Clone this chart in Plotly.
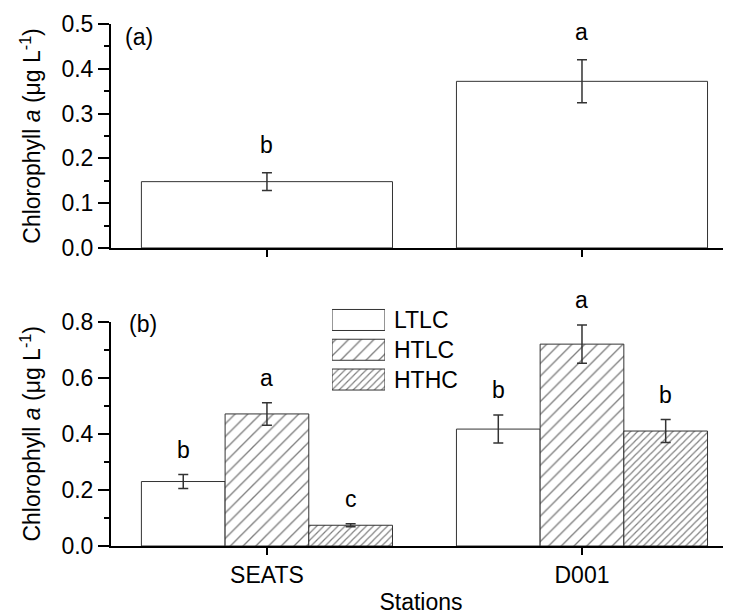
import plotly.graph_objects as go

stations = ["SEATS", "D001"]

# Panel (a)
a_values = [0.148, 0.372]
a_errors = [0.020, 0.048]
a_letters = ["b", "a"]

# Panel (b)
series = ["LTLC", "HTLC", "HTHC"]
b_values = {
    "LTLC": [0.230, 0.417],
    "HTLC": [0.471, 0.720],
    "HTHC": [0.074, 0.410],
}
b_errors = {
    "LTLC": [0.025, 0.050],
    "HTLC": [0.040, 0.068],
    "HTHC": [0.005, 0.041],
}
b_letters = {
    "LTLC": ["b", "b"],
    "HTLC": ["a", "a"],
    "HTHC": ["c", "b"],
}

FONT = "Liberation Sans, Arial, sans-serif"
FS = 23
LINEC = "#333333"
patterns = {"LTLC": ("", 9, 0.12), "HTLC": ("/", 9, 0.15), "HTHC": ("/", 5, 0.24)}

fig = go.Figure()

fig.add_trace(go.Bar(
    x=stations, y=a_values, xaxis="x", yaxis="y",
    marker=dict(color="white", line=dict(color=LINEC, width=1)),
    error_y=dict(type="data", array=a_errors, color=LINEC, thickness=1.5, width=5),
    showlegend=False,
))

for s in series:
    shp, sz, sol = patterns[s]
    fig.add_trace(go.Bar(
        x=stations, y=b_values[s], name=s, xaxis="x2", yaxis="y2",
        marker=dict(color="white", line=dict(color=LINEC, width=1),
                    pattern=dict(shape=shp, size=sz, solidity=sol, fgcolor="black", bgcolor="white")),
        error_y=dict(type="data", array=b_errors[s], color=LINEC, thickness=1.5, width=5),
        showlegend=False,
    ))

# custom legend swatches
fig.add_trace(go.Bar(
    x=[1] * len(series), y=series, orientation="h", base=0, width=0.706,
    xaxis="x3", yaxis="y3", showlegend=False, hoverinfo="skip",
    marker=dict(color="white", line=dict(color=LINEC, width=1),
                pattern=dict(shape=[patterns[s][0] for s in series],
                             size=[patterns[s][1] for s in series],
                             solidity=[patterns[s][2] for s in series],
                             fgcolor="black", bgcolor="white")),
))

annotations = []
for i, st in enumerate(stations):
    annotations.append(dict(x=i, y=a_values[i] + a_errors[i], xref="x", yref="y",
                            text=a_letters[i], showarrow=False, yshift=28,
                            font=dict(size=FS, family=FONT, color="black")))
group_w = 0.797
bw = group_w / len(series)
for j, s in enumerate(series):
    off = -group_w / 2 + bw * (j + 0.5)
    for i, st in enumerate(stations):
        annotations.append(dict(x=i + off, y=b_values[s][i] + b_errors[s][i], xref="x2", yref="y2",
                                text=b_letters[s][i], showarrow=False, yshift=25,
                                font=dict(size=FS, family=FONT, color="black")))
annotations.append(dict(x=0.019, y=1.0, xref="paper", yref="paper", text="(a)", showarrow=False,
                        xanchor="left", yanchor="top", yshift=2, font=dict(size=FS, family=FONT, color="black")))
annotations.append(dict(x=0.026, y=0.4297, xref="paper", yref="paper", text="(b)", showarrow=False,
                        xanchor="left", yanchor="top", yshift=13, font=dict(size=FS, family=FONT, color="black")))

ytitle = "Chlorophyll <i>a</i> (μg L<sup>-1</sup>)"
common_x = dict(type="category", range=[-0.495, 1.473], showline=True, linewidth=2, linecolor="black",
                ticks="outside", ticklen=7, tickwidth=2, tickcolor="black", showgrid=False, zeroline=False,
                automargin=False, tickfont=dict(size=FS, family=FONT, color="black"))
common_y = dict(showline=True, linewidth=2, linecolor="black", ticks="outside", ticklen=11, tickwidth=2,
                tickcolor="black", showgrid=False, zeroline=False, automargin=False,
                tickfont=dict(size=FS, family=FONT, color="black"),
                title=dict(text=ytitle, font=dict(size=FS, family=FONT, color="black"), standoff=14))

# the page adds an 8px body margin, so the figure is 8px smaller on each side
fig.update_layout(
    width=723, height=607,
    margin=dict(l=103, r=0, t=16, b=69),
    paper_bgcolor="white", plot_bgcolor="white",
    barmode="group", bargap=0.203, bargroupgap=0,
    font=dict(family=FONT, size=FS, color="black"),
    xaxis=dict(common_x, domain=[0, 1], anchor="y", showticklabels=False),
    yaxis=dict(common_y, domain=[0.571, 1.0], anchor="x", range=[0, 0.5], dtick=0.1, tickformat=".1f",
               minor=dict(ticks="outside", ticklen=5, tickwidth=2, tickcolor="black", dtick=0.05)),
    xaxis2=dict(common_x, domain=[0, 1], anchor="y2",
                title=dict(text="Stations", font=dict(size=FS, family=FONT, color="black"), standoff=10)),
    yaxis2=dict(common_y, domain=[0, 0.4297], anchor="x2", range=[0, 0.8], dtick=0.2, tickformat=".1f",
                minor=dict(ticks="outside", ticklen=5, tickwidth=2, tickcolor="black", dtick=0.1)),
    xaxis3=dict(domain=[0.3565, 0.4419], anchor="y3", range=[0, 1], visible=False),
    yaxis3=dict(domain=[0.2904, 0.4615], anchor="x3", type="category", categoryorder="array",
                categoryarray=series, range=[2.5, -0.5], side="right", showline=False, ticks="",
                showgrid=False, zeroline=False, ticklabelstandoff=8, automargin=False,
                tickfont=dict(size=FS, family=FONT, color="black")),
    annotations=annotations,
)

fig.write_html("out.html")
